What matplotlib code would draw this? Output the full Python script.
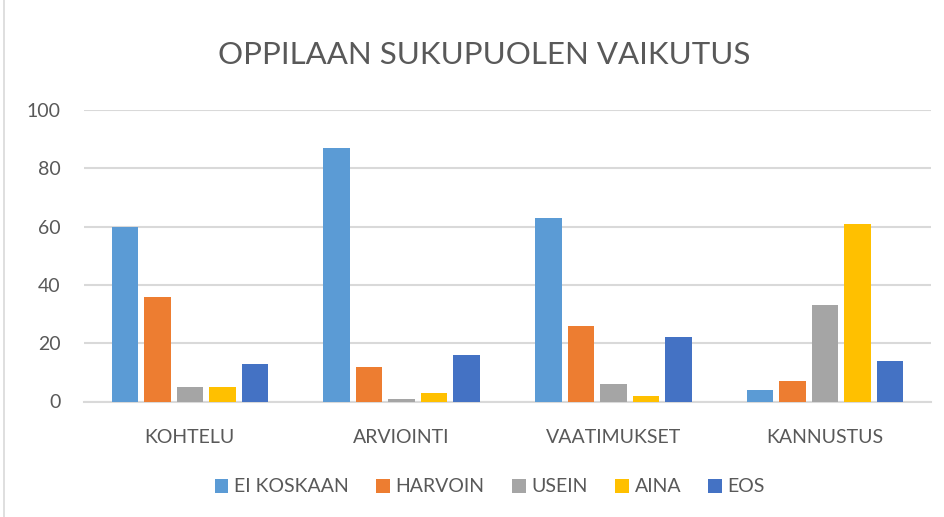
import matplotlib
matplotlib.use("Agg")
import matplotlib.pyplot as plt
import numpy as np
from matplotlib.patches import Rectangle

categories = ["KOHTELU", "ARVIOINTI", "VAATIMUKSET", "KANNUSTUS"]
series_names = ["EI KOSKAAN", "HARVOIN", "USEIN", "AINA", "EOS"]
ei_koskaan = [60, 87, 63, 4]
harvoin = [36, 12, 26, 7]
usein = [5, 1, 6, 33]
aina = [5, 3, 2, 61]
eos = [13, 16, 22, 14]
colors = ["#5B9BD5", "#ED7D31", "#A5A5A5", "#FFC000", "#4472C4"]
yticks = [0, 20, 40, 60, 80, 100]

plt.rcParams['font.family'] = ['Lato', 'DejaVu Sans']
txt = "#595959"

fig = plt.figure(figsize=(9.45, 5.17), dpi=100)
W, H = 945, 517
ax = fig.add_axes([84 / W, 1 - 401.5 / H, (931 - 84) / W, (401.5 - 110) / H])

data = [ei_koskaan, harvoin, usein, aina, eos]
x = np.arange(len(categories))
step = 0.1535
bw = 0.125
for i, (vals, name, c) in enumerate(zip(data, series_names, colors)):
    ax.bar(x + (i - 2) * step, vals, width=bw, color=c, label=name, zorder=3)

ax.set_xlim(-0.5, 3.5)
ax.set_ylim(0, 100)
ax.set_yticks(yticks)
ax.yaxis.grid(True, color="#D9D9D9", linewidth=1.5, zorder=0)
ax.set_axisbelow(True)
for s in ["top", "right", "left"]:
    ax.spines[s].set_visible(False)
ax.spines["bottom"].set_color("#D9D9D9")
ax.spines["bottom"].set_linewidth(1.5)
ax.tick_params(axis="both", length=0, labelsize=14, colors=txt)
ax.tick_params(axis="y", pad=17)
ax.tick_params(axis="x", pad=20)
ax.set_xticks(x)
ax.set_xticklabels(categories)

fig.text(484 / W, 1 - 55 / H, "OPPILAAN SUKUPUOLEN VAIKUTUS", ha="center", va="center",
         fontsize=22.5, color=txt)

leg = fig.legend(loc="center", bbox_to_anchor=(490 / W, 1 - 487 / H), ncol=5, frameon=False,
                 fontsize=14, handlelength=0.7, handleheight=0.7, handletextpad=0.3,
                 columnspacing=1.4)
for t in leg.get_texts():
    t.set_color(txt)

fig.patches.append(Rectangle((4 / W, -0.1), 1.2, 1.3, transform=fig.transFigure,
                             fill=False, edgecolor="#D9D9D9", linewidth=1.2))

fig.savefig("out.png", dpi=100)
